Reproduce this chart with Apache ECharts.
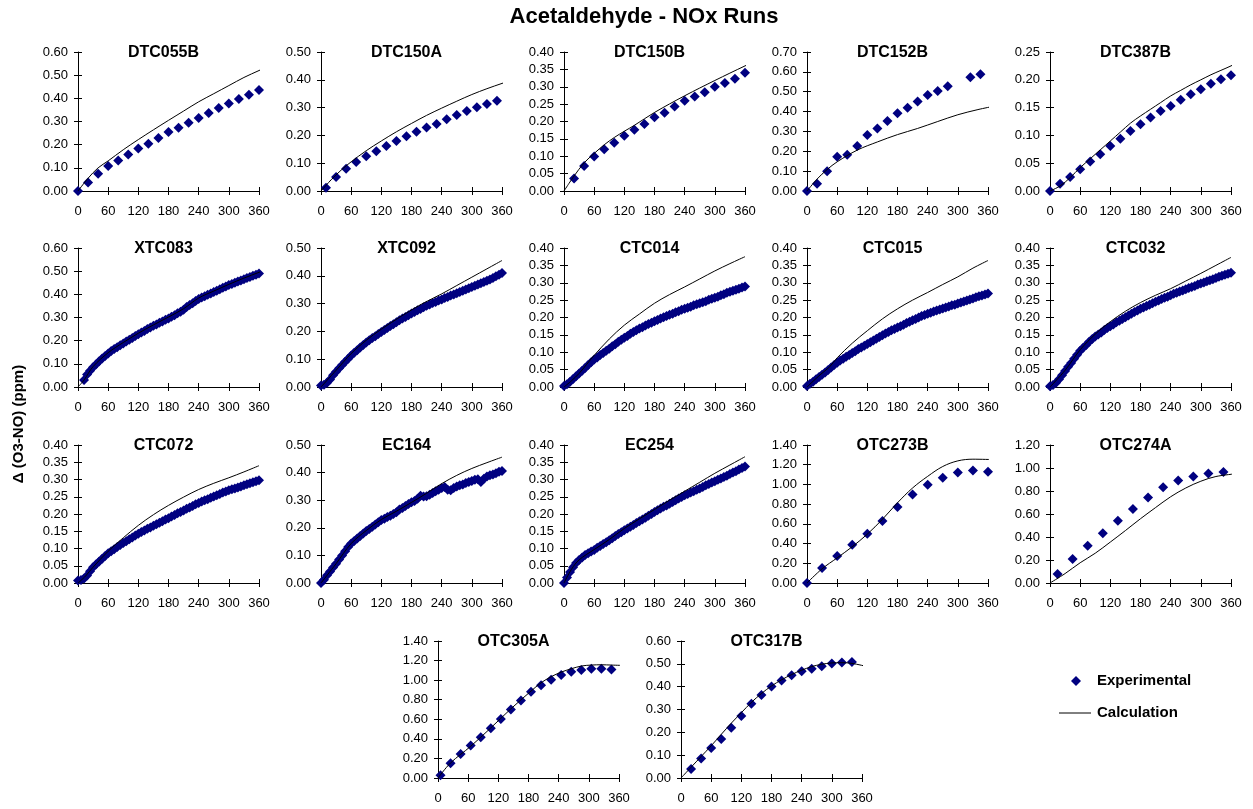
<!DOCTYPE html>
<html><head><meta charset="utf-8">
<script src="https://cdn.jsdelivr.net/npm/echarts/dist/echarts.min.js"></script>
<style>html,body{margin:0;padding:0;background:#fff}#c{width:1253px;height:809px}</style>
</head><body><div id="c"></div>
<script>
// ---------- DATA ----------
const xTicks = [0, 60, 120, 180, 240, 300, 360];
const tDense = [0,6,12,18,24,30,36,42,48,54,60,66,72,78,84,90,96,102,108,114,120,126,132,138,144,150,156,162,168,174,180,186,192,198,204,210,216,222,228,234,240,246,252,258,264,270,276,282,288,294,300,306,312,318,324,330,336,342,348,354,360];

const DTC055B_tE = [0,20,40,60,80,100,120,140,160,180,200,220,240,260,280,300,320,340,360];
const DTC055B_exp = [0,0.037,0.075,0.108,0.132,0.158,0.183,0.204,0.229,0.255,0.273,0.295,0.315,0.337,0.358,0.378,0.397,0.416,0.436];
const DTC055B_tC = [0,20,40,60,90,120,150,180,210,240,270,300,330,360,370];
const DTC055B_calc = [0,0.055,0.10,0.13,0.178,0.222,0.264,0.305,0.345,0.385,0.42,0.455,0.49,0.52,0.53];

const DTC150A_tE = [10,30,50,70,90,110,130,150,170,190,210,230,250,270,290,310,330,350];
const DTC150A_exp = [0.012,0.050,0.080,0.104,0.125,0.143,0.162,0.180,0.197,0.213,0.228,0.241,0.258,0.273,0.288,0.301,0.313,0.325];
const DTC150A_tC = [0,10,20,40,60,90,120,150,180,210,240,270,300,330,360,370];
const DTC150A_calc = [0,0.02,0.04,0.075,0.105,0.145,0.18,0.213,0.243,0.272,0.298,0.323,0.347,0.368,0.387,0.393];

const DTC150B_tE = [20,40,60,80,100,120,140,160,180,200,220,240,260,280,300,320,340,360];
const DTC150B_exp = [0.036,0.072,0.099,0.120,0.139,0.159,0.176,0.193,0.212,0.225,0.243,0.260,0.272,0.284,0.300,0.311,0.323,0.340];
const DTC150B_tC = [0,10,20,40,60,80,100,120,140,180,240,300,360,370];
const DTC150B_calc = [0,0.022,0.043,0.081,0.108,0.133,0.154,0.172,0.189,0.226,0.274,0.318,0.36,0.366];

const DTC152B_tE = [0,20,40,60,80,100,120,140,160,180,200,220,240,260,280,325,345];
const DTC152B_exp = [0,0.036,0.10,0.172,0.183,0.227,0.282,0.315,0.352,0.392,0.419,0.451,0.484,0.504,0.528,0.573,0.588];
const DTC152B_tC = [0,20,40,60,100,140,180,220,260,300,340,370];
const DTC152B_calc = [0,0.06,0.108,0.147,0.206,0.247,0.284,0.315,0.35,0.384,0.41,0.426];

const DTC387B_tE = [0,20,40,60,80,100,120,140,160,180,200,220,240,260,280,300,320,340,360];
const DTC387B_exp = [0,0.013,0.025,0.039,0.053,0.066,0.081,0.094,0.108,0.120,0.132,0.144,0.153,0.164,0.174,0.183,0.193,0.201,0.208];
const DTC387B_tC = [0,20,40,60,80,100,120,140,160,180,200,220,240,260,280,300,320,340,360,370];
const DTC387B_calc = [0,0.009,0.024,0.042,0.058,0.074,0.09,0.106,0.122,0.135,0.147,0.159,0.171,0.181,0.191,0.2,0.209,0.217,0.225,0.23];

const XTC083_exp = [null,null,0.03,0.054,0.07,0.085,0.098,0.111,0.123,0.134,0.145,0.155,0.164,0.172,0.180,0.188,0.196,0.204,0.212,0.220,0.228,0.235,0.242,0.250,0.257,0.264,0.270,0.277,0.283,0.290,0.296,0.303,0.310,0.318,0.325,0.333,0.345,0.354,0.362,0.371,0.380,0.386,0.392,0.398,0.404,0.410,0.416,0.422,0.428,0.434,0.440,0.445,0.450,0.455,0.460,0.465,0.470,0.475,0.480,0.485,0.490];
const XTC083_tC = [0,12,30,60,90,120,150,180,210,240,270,300,330,360,370];
const XTC083_calc = [0,0.03,0.088,0.148,0.192,0.232,0.268,0.302,0.338,0.384,0.414,0.443,0.47,0.495,0.503];

const XTC092_exp = [0.005,0.008,0.015,0.027,0.042,0.055,0.067,0.079,0.091,0.102,0.113,0.123,0.132,0.142,0.151,0.160,0.168,0.176,0.183,0.191,0.198,0.205,0.212,0.219,0.226,0.233,0.240,0.246,0.252,0.258,0.264,0.270,0.276,0.281,0.287,0.292,0.297,0.302,0.306,0.311,0.315,0.320,0.324,0.329,0.333,0.337,0.342,0.346,0.351,0.355,0.360,0.364,0.369,0.373,0.378,0.382,0.387,0.392,0.398,0.404,0.410];
const XTC092_tC = [0,30,60,90,120,160,200,240,270,300,330,360];
const XTC092_calc = [0,0.06,0.12,0.168,0.208,0.255,0.298,0.335,0.365,0.395,0.425,0.455];

const CTC014_exp = [0.003,0.008,0.015,0.023,0.031,0.039,0.047,0.055,0.063,0.071,0.079,0.085,0.092,0.098,0.104,0.110,0.117,0.123,0.130,0.136,0.142,0.147,0.153,0.158,0.163,0.168,0.172,0.177,0.181,0.185,0.189,0.193,0.197,0.201,0.204,0.208,0.211,0.215,0.218,0.222,0.225,0.228,0.231,0.235,0.238,0.241,0.244,0.247,0.251,0.254,0.257,0.260,0.264,0.267,0.271,0.274,0.277,0.280,0.283,0.286,0.289];
const CTC014_tC = [0,15,30,45,60,90,120,150,180,210,240,270,300,330,360];
const CTC014_calc = [0,0.018,0.039,0.065,0.091,0.138,0.178,0.21,0.241,0.266,0.288,0.311,0.334,0.355,0.375];

const CTC015_exp = [0.003,0.009,0.015,0.022,0.029,0.035,0.042,0.049,0.056,0.063,0.070,0.076,0.081,0.087,0.092,0.098,0.103,0.109,0.114,0.119,0.124,0.129,0.134,0.139,0.144,0.149,0.154,0.158,0.163,0.167,0.171,0.175,0.179,0.184,0.188,0.192,0.196,0.200,0.204,0.207,0.211,0.214,0.217,0.220,0.223,0.226,0.229,0.232,0.235,0.237,0.240,0.243,0.246,0.249,0.252,0.255,0.258,0.261,0.263,0.266,0.269];
const CTC015_tC = [0,26,45,60,90,120,150,180,210,240,270,300,330,360];
const CTC015_calc = [0,0.035,0.058,0.084,0.126,0.162,0.196,0.225,0.25,0.272,0.295,0.317,0.342,0.364];

const CTC032_exp = [0.002,0.006,0.012,0.022,0.034,0.046,0.058,0.069,0.081,0.093,0.104,0.113,0.121,0.130,0.138,0.145,0.151,0.157,0.164,0.170,0.175,0.180,0.186,0.191,0.196,0.201,0.206,0.211,0.216,0.220,0.225,0.229,0.233,0.237,0.241,0.245,0.249,0.253,0.257,0.260,0.264,0.268,0.271,0.275,0.278,0.281,0.285,0.288,0.291,0.295,0.298,0.301,0.304,0.307,0.310,0.314,0.317,0.320,0.323,0.326,0.329];
const CTC032_tC = [0,30,60,90,120,150,180,210,240,270,300,330,360];
const CTC032_calc = [0,0.048,0.107,0.152,0.188,0.218,0.243,0.264,0.283,0.305,0.327,0.35,0.373];

const CTC072_exp = [0.007,0.009,0.013,0.022,0.034,0.046,0.054,0.062,0.070,0.078,0.086,0.092,0.098,0.104,0.110,0.116,0.121,0.127,0.132,0.138,0.143,0.148,0.152,0.157,0.161,0.166,0.170,0.175,0.179,0.184,0.188,0.193,0.197,0.202,0.206,0.210,0.215,0.219,0.223,0.228,0.232,0.236,0.240,0.243,0.247,0.251,0.254,0.258,0.262,0.265,0.269,0.272,0.274,0.277,0.280,0.283,0.286,0.289,0.292,0.295,0.298];
const CTC072_tC = [0,15,30,60,90,120,150,180,210,240,270,300,330,360];
const CTC072_calc = [0,0.02,0.046,0.092,0.131,0.167,0.198,0.225,0.249,0.271,0.289,0.305,0.322,0.34];

const EC164_exp = [0.000,0.012,0.028,0.042,0.056,0.070,0.085,0.100,0.115,0.130,0.143,0.152,0.161,0.170,0.179,0.188,0.196,0.204,0.212,0.220,0.228,0.233,0.239,0.244,0.250,0.256,0.266,0.272,0.279,0.286,0.293,0.297,0.305,0.316,0.313,0.314,0.320,0.326,0.332,0.338,0.344,0.348,0.338,0.336,0.344,0.350,0.354,0.357,0.362,0.366,0.370,0.374,0.376,0.366,0.378,0.386,0.390,0.393,0.398,0.403,0.406];
const EC164_tC = [0,30,60,90,120,150,180,210,240,270,300,330,360];
const EC164_calc = [0,0.07,0.143,0.19,0.23,0.26,0.292,0.325,0.36,0.39,0.415,0.436,0.456];

const EC254_exp = [0.000,0.016,0.032,0.046,0.058,0.067,0.074,0.081,0.086,0.091,0.096,0.102,0.107,0.113,0.118,0.124,0.130,0.136,0.142,0.147,0.153,0.158,0.163,0.168,0.174,0.179,0.184,0.189,0.195,0.200,0.206,0.211,0.216,0.221,0.225,0.230,0.235,0.240,0.245,0.249,0.254,0.258,0.262,0.266,0.270,0.274,0.278,0.283,0.287,0.291,0.295,0.299,0.303,0.307,0.311,0.316,0.320,0.324,0.329,0.333,0.338];
const EC254_tC = [0,15,30,60,90,120,150,180,210,240,270,300,330,360];
const EC254_calc = [0,0.04,0.067,0.097,0.126,0.158,0.186,0.213,0.24,0.266,0.292,0.318,0.342,0.366];

const OTC273B_tE = [0,30,60,90,120,150,180,210,240,270,300,330,360];
const OTC273B_exp = [0,0.151,0.275,0.388,0.499,0.63,0.77,0.898,0.998,1.068,1.122,1.142,1.129];
const OTC273B_tC = [0,30,60,90,120,150,180,210,240,270,300,330,370];
const OTC273B_calc = [0,0.144,0.255,0.368,0.496,0.646,0.814,0.964,1.082,1.182,1.239,1.256,1.252];

const OTC274A_tE = [15,45,75,105,135,165,195,225,255,285,315,345];
const OTC274A_exp = [0.079,0.209,0.324,0.432,0.541,0.644,0.744,0.832,0.891,0.926,0.953,0.965];
const OTC274A_tC = [0,30,60,90,120,150,180,210,240,270,300,330,370];
const OTC274A_calc = [0,0.082,0.176,0.259,0.356,0.456,0.559,0.656,0.75,0.826,0.885,0.926,0.95];

const OTC305A_tE = [5,25,45,65,85,105,125,145,165,185,205,225,245,265,285,305,325,345];
const OTC305A_exp = [0.027,0.150,0.246,0.331,0.417,0.509,0.604,0.700,0.792,0.881,0.949,1.004,1.052,1.086,1.103,1.116,1.116,1.110];
const OTC305A_tC = [0,25,65,105,145,185,205,225,245,265,285,305,325,345,370];
const OTC305A_calc = [0,0.154,0.324,0.512,0.707,0.888,0.973,1.035,1.082,1.116,1.144,1.154,1.157,1.154,1.15];

const OTC317B_tE = [20,40,60,80,100,120,140,160,180,200,220,240,260,280,300,320,340];
const OTC317B_exp = [0.039,0.085,0.131,0.171,0.220,0.272,0.325,0.363,0.401,0.427,0.450,0.468,0.479,0.489,0.501,0.506,0.508];
const OTC317B_tC = [0,20,40,60,80,100,120,140,160,180,200,220,240,260,280,300,320,340,370];
const OTC317B_calc = [0,0.047,0.094,0.141,0.191,0.240,0.286,0.331,0.37,0.403,0.43,0.453,0.472,0.488,0.498,0.504,0.505,0.502,0.488];

const panelNames = ['DTC055B','DTC150A','DTC150B','DTC152B','DTC387B','XTC083','XTC092','CTC014','CTC015','CTC032','CTC072','EC164','EC254','OTC273B','OTC274A','OTC305A','OTC317B'];
const yMaxes = [0.6,0.5,0.4,0.7,0.25, 0.6,0.5,0.4,0.4,0.4, 0.4,0.5,0.4,1.4,1.2, 1.4,0.6];
const yIntervals = [0.1,0.1,0.05,0.1,0.05, 0.1,0.1,0.05,0.05,0.05, 0.05,0.1,0.05,0.2,0.2, 0.2,0.1];

const expTimes = [DTC055B_tE,DTC150A_tE,DTC150B_tE,DTC152B_tE,DTC387B_tE,tDense,tDense,tDense,tDense,tDense,tDense,tDense,tDense,OTC273B_tE,OTC274A_tE,OTC305A_tE,OTC317B_tE];
const expVals = [DTC055B_exp,DTC150A_exp,DTC150B_exp,DTC152B_exp,DTC387B_exp,XTC083_exp,XTC092_exp,CTC014_exp,CTC015_exp,CTC032_exp,CTC072_exp,EC164_exp,EC254_exp,OTC273B_exp,OTC274A_exp,OTC305A_exp,OTC317B_exp];
const calcTimes = [DTC055B_tC,DTC150A_tC,DTC150B_tC,DTC152B_tC,DTC387B_tC,XTC083_tC,XTC092_tC,CTC014_tC,CTC015_tC,CTC032_tC,CTC072_tC,EC164_tC,EC254_tC,OTC273B_tC,OTC274A_tC,OTC305A_tC,OTC317B_tC];
const calcVals = [DTC055B_calc,DTC150A_calc,DTC150B_calc,DTC152B_calc,DTC387B_calc,XTC083_calc,XTC092_calc,CTC014_calc,CTC015_calc,CTC032_calc,CTC072_calc,EC164_calc,EC254_calc,OTC273B_calc,OTC274A_calc,OTC305A_calc,OTC317B_calc];

// ---------- LAYOUT ----------
const colLefts = [78, 321, 564, 807, 1050];
const rowTops = [52, 248, 445];
const rowHeights = [139, 139, 138];
const plotW = 181;
const gridBoxes = [];
for (let r = 0; r < 3; r++) for (let c = 0; c < 5; c++) gridBoxes.push([colLefts[c], rowTops[r], plotW, rowHeights[r]]);
gridBoxes.push([438, 641, plotW, 137]);
gridBoxes.push([681, 641, plotW, 137]);
const titleDx = [-5,-5,-5,-5,-5, -5,-5,-5,-5,-5, -5,-5,-5,-5,-5, -15,-5];

const FONT = "'Liberation Sans', Arial, sans-serif";
const NAVY = '#000080';

function pairs(t, v) { return t.map((x, i) => [x, v[i]]).filter(p => p[1] !== null && p[1] !== undefined); }

const grids = [], xAxes = [], yAxes = [], series = [], graphics = [];
const axisLineStyle = { color: '#000', width: 1 };
panelNames.forEach((name, i) => {
  const [l, t, w, h] = gridBoxes[i];
  grids.push({ left: l, top: t, width: w, height: h, containLabel: false, outerBoundsMode: 'none' });
  const xBase = { gridIndex: i, type: 'value', min: 0, max: 360, interval: 60, position: 'bottom', splitLine: { show: false } };
  const yBase = { gridIndex: i, type: 'value', min: 0, max: yMaxes[i], interval: yIntervals[i], position: 'left', splitLine: { show: false } };
  xAxes.push(Object.assign({}, xBase, {
    axisLine: { show: true, onZero: false, lineStyle: axisLineStyle },
    axisTick: { show: true, inside: false, length: 4, lineStyle: axisLineStyle },
    axisLabel: { show: true, color: '#000', fontSize: 13, fontFamily: FONT, margin: 14, hideOverlap: false }
  }));
  xAxes.push(Object.assign({}, xBase, {
    axisLine: { show: false, onZero: false },
    axisTick: { show: true, inside: true, length: 4, lineStyle: axisLineStyle },
    axisLabel: { show: false }
  }));
  yAxes.push(Object.assign({}, yBase, {
    axisLine: { show: true, onZero: false, lineStyle: axisLineStyle },
    axisTick: { show: true, inside: false, length: 4, lineStyle: axisLineStyle },
    axisLabel: { show: true, color: '#000', fontSize: 13, fontFamily: FONT, margin: 10, hideOverlap: false,
      formatter: v => Number(v).toFixed(2) }
  }));
  yAxes.push(Object.assign({}, yBase, {
    axisLine: { show: false, onZero: false },
    axisTick: { show: true, inside: true, length: 4, lineStyle: axisLineStyle },
    axisLabel: { show: false }
  }));
  series.push({
    name: 'Calculation', type: 'line', xAxisIndex: 2 * i, yAxisIndex: 2 * i,
    data: pairs(calcTimes[i], calcVals[i]), symbol: 'none', smooth: 0.35, clip: false,
    lineStyle: { color: '#000', width: 1 }, z: 3, animation: false
  });
  series.push({
    name: 'Experimental', type: 'scatter', xAxisIndex: 2 * i, yAxisIndex: 2 * i,
    data: pairs(expTimes[i], expVals[i]), symbol: 'diamond', symbolSize: [10, 10], clip: false,
    itemStyle: { color: NAVY, opacity: 1 }, z: 2, animation: false
  });
  graphics.push({
    type: 'text', x: l + w / 2 + titleDx[i], y: t + 1, z: 10,
    style: { text: name, font: 'bold 16px ' + FONT, fill: '#000', textAlign: 'center', textVerticalAlign: 'middle' }
  });
});

graphics.push({ type: 'text', x: 644, y: 17, style: { text: 'Acetaldehyde - NOx Runs', font: 'bold 22px ' + FONT, fill: '#000', textAlign: 'center', textVerticalAlign: 'middle' } });
graphics.push({ type: 'text', x: 19, y: 424, rotation: Math.PI / 2, style: { text: '\u0394 (O3-NO) (ppm)', font: 'bold 15px ' + FONT, fill: '#000', textAlign: 'center', textVerticalAlign: 'middle' } });
// legend
graphics.push({ type: 'polygon', shape: { points: [[1076, 676], [1081, 681], [1076, 686], [1071, 681]] }, style: { fill: NAVY } });
graphics.push({ type: 'text', x: 1097, y: 681, style: { text: 'Experimental', font: 'bold 15px ' + FONT, fill: '#000', textAlign: 'left', textVerticalAlign: 'middle' } });
graphics.push({ type: 'line', shape: { x1: 1059, y1: 713, x2: 1091, y2: 713 }, style: { stroke: '#000', lineWidth: 1 } });
graphics.push({ type: 'text', x: 1097, y: 713, style: { text: 'Calculation', font: 'bold 15px ' + FONT, fill: '#000', textAlign: 'left', textVerticalAlign: 'middle' } });

const chart = echarts.init(document.getElementById('c'), null, { renderer: 'canvas', width: 1253, height: 809 });
chart.setOption({
  backgroundColor: '#fff',
  animation: false,
  grid: grids,
  xAxis: xAxes,
  yAxis: yAxes,
  series: series,
  graphic: graphics
});
</script>
</body></html>
